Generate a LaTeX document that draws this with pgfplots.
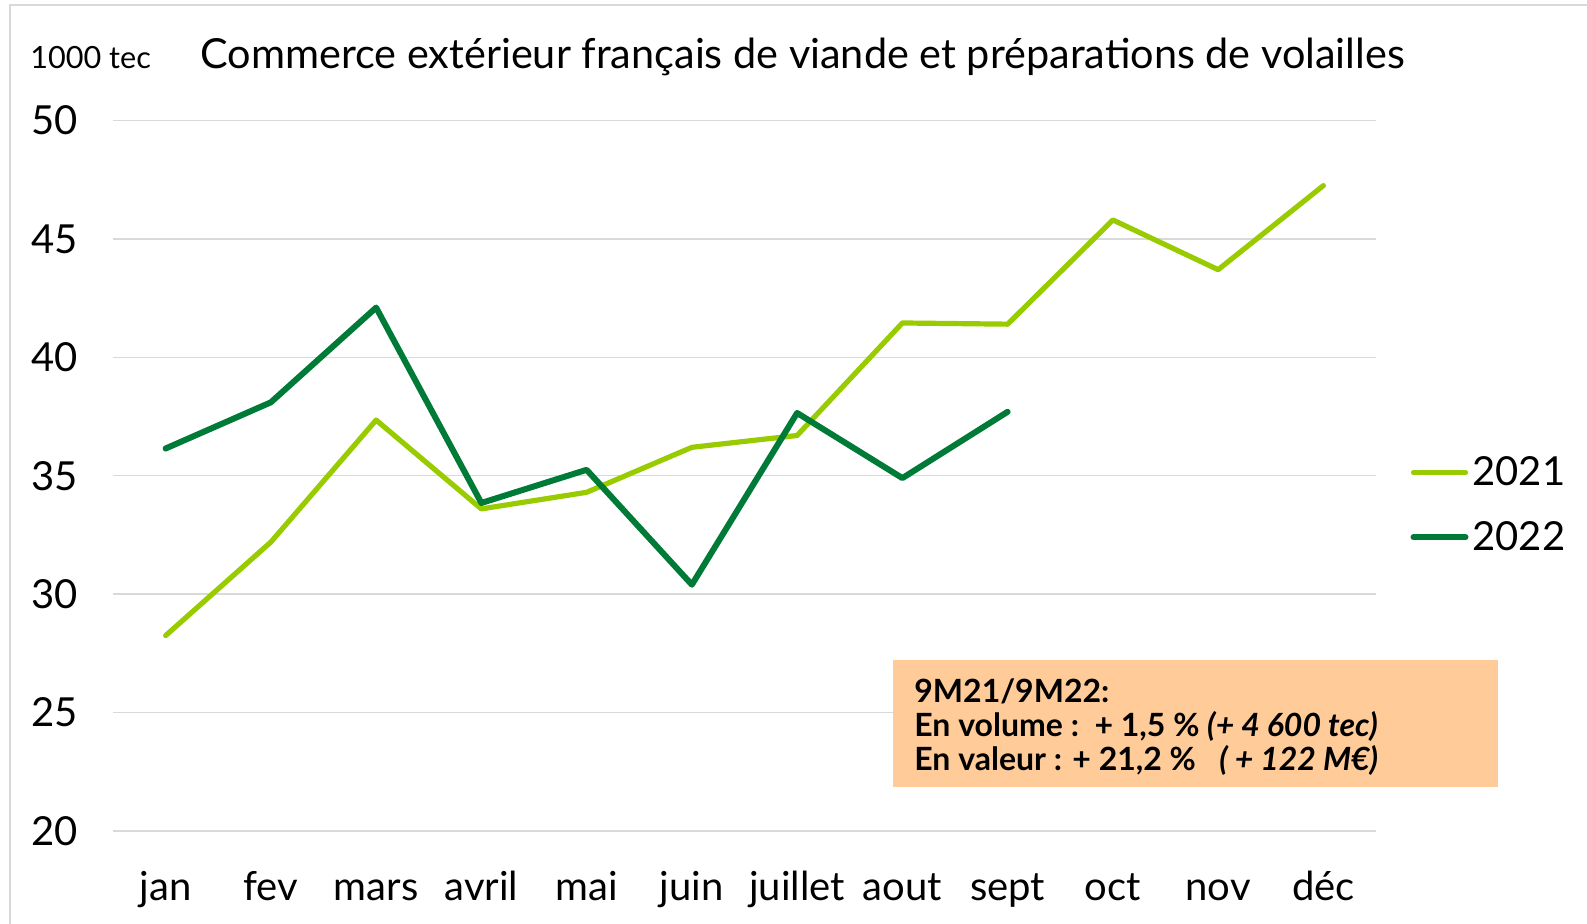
\documentclass[border=0pt]{standalone}
\usepackage{pgfplots}
\pgfplotsset{compat=1.18}
\usepackage{fontspec}
\setmainfont{Lato}
\definecolor{c21}{RGB}{153,204,0}
\definecolor{c22}{RGB}{0,122,55}
\definecolor{gridc}{RGB}{217,217,217}
\definecolor{boxc}{RGB}{255,204,153}
\begin{document}
\begin{tikzpicture}
\useasboundingbox (0,0) rectangle (793.5pt,462pt);
\draw[gridc, line width=1pt] (5pt,0) -- (5pt,459.5pt) -- (793.5pt,459.5pt);
\begin{axis}[
  at={(56.5pt,46.5pt)}, anchor=south west,
  scale only axis, width=631.5pt, height=355.25pt,
  xmin=-0.5, xmax=11.5, ymin=20, ymax=50,
  axis line style={draw=none},
  xtick={0,...,11},
  xticklabels={jan,fev,mars,avril,mai,juin,juillet,aout,sept,oct,nov,déc},
  ytick={20,25,...,50},
  major tick length=0pt,
  ymajorgrids, grid style={gridc, line width=0.75pt},
  /pgf/number format/assume math mode=true,
  tick label style={font=\fontsize{20}{24}\selectfont},
  yticklabel style={anchor=east, xshift=-14pt},
  xticklabel style={anchor=base, yshift=-35pt},
  legend style={at={(1.027,0.459)}, anchor=west, draw=none, fill=none,
    font=\fontsize{20}{24}\selectfont, row sep=12.5pt, inner sep=0pt,
    /tikz/every even column/.append style={column sep=4pt}},
  legend image code/.code={\draw[#1] (0pt,0pt) -- (26pt,0pt);},
  legend cell align=left,
  clip=false,
]
\addplot[c21, line width=2.6pt, line cap=round, line join=round] coordinates {
(0,28.25) (1,32.2) (2,37.35) (3,33.6) (4,34.3) (5,36.2) (6,36.7) (7,41.45) (8,41.4) (9,45.8) (10,43.7) (11,47.25)};
\addlegendentry{2021}
\addplot[c22, line width=3pt, line cap=round, line join=round] coordinates {
(0,36.15) (1,38.1) (2,42.1) (3,33.85) (4,35.25) (5,30.4) (6,37.65) (7,34.9) (8,37.7)};
\addlegendentry{2022}
\end{axis}
\node[anchor=base west, font=\fontsize{15.3}{17}\selectfont, inner sep=0pt] at (15pt,427.5pt) {1000 tec};
\node[anchor=base west, font=\fontsize{20.7}{24}\selectfont, inner sep=0pt] at (100pt,427.5pt) {Commerce extérieur français de viande et préparations de volailles};
\fill[boxc] (446.5pt,68.5pt) rectangle (749pt,132pt);
\node[anchor=north west, align=left, font=\bfseries\fontsize{16}{17.2}\selectfont, inner sep=0pt] at (457pt,123pt)
{9M21/9M22:\\
En volume :\ \ + 1,5 \% \textit{(+ 4 600 tec)}\\
En valeur : + 21,2 \%\ \ \ \textit{( + 122 M€)}};
\end{tikzpicture}
\end{document}
